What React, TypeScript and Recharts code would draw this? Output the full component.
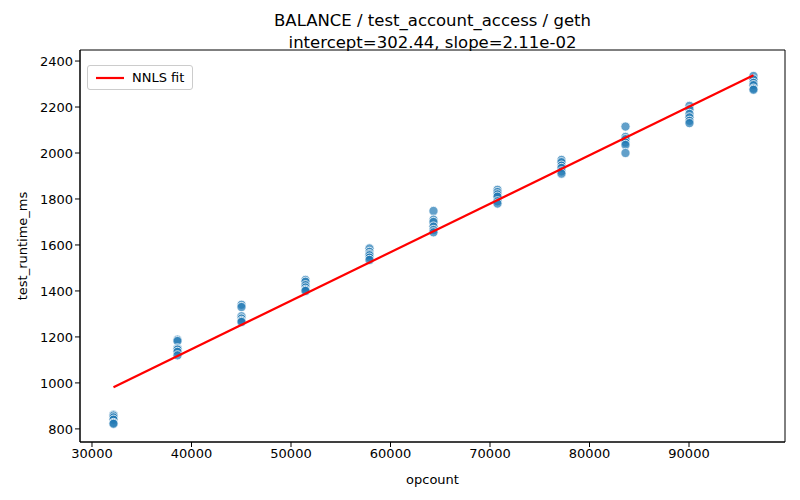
import React from "react";
import {
  ScatterChart,
  Scatter,
  XAxis,
  YAxis,
  ReferenceArea,
} from "recharts";

// opcount levels (x) and measured runtimes (ms) per level
const opcounts = [32160, 38592, 45024, 51456, 57888, 64320, 70752, 77184, 83616, 90048, 96480];
const runtimes: number[][] = [
  [862, 858, 850, 840, 826, 822],
  [1188, 1182, 1150, 1145, 1135, 1120],
  [1340, 1330, 1290, 1280, 1270, 1265],
  [1448, 1440, 1425, 1415, 1405, 1400],
  [1585, 1570, 1560, 1555, 1545, 1535],
  [1748, 1710, 1700, 1680, 1665, 1655],
  [1840, 1830, 1820, 1810, 1790, 1780],
  [1970, 1960, 1945, 1935, 1920, 1910],
  [2115, 2070, 2060, 2045, 2035, 2000],
  [2205, 2190, 2170, 2155, 2140, 2130],
  [2335, 2320, 2305, 2295, 2280, 2275],
];
const intercept = 302.44;
const slope = 0.0211;
const xTicks = [30000, 40000, 50000, 60000, 70000, 80000, 90000];
const yTicks = [800, 1000, 1200, 1400, 1600, 1800, 2000, 2200, 2400];
const xDomain: [number, number] = [28794, 99648];
const yDomain: [number, number] = [743, 2448];

const points = opcounts.flatMap((x, i) => runtimes[i].map((y) => ({ x, y })));
const fitX = [opcounts[0], opcounts[opcounts.length - 1]];
const fitLine = fitX.map((x) => ({ x, y: intercept + slope * x }));

const font = "DejaVu Sans, sans-serif";
const tickStyle = { fontSize: 13, fill: "#000", fontFamily: font };

const Dot = (props: any) => (
  <circle
    cx={props.cx}
    cy={props.cy}
    r={4.6}
    fill="#1f77b4"
    fillOpacity={0.7}
    stroke="#fff"
    strokeWidth={0.8}
  />
);

export default function App() {
  return (
    <div style={{ position: "absolute", left: 0, top: 0, width: 800, height: 500, background: "#fff" }}>
      <div
        style={{
          position: "absolute",
          left: 80,
          width: 705,
          top: 10,
          textAlign: "center",
          fontFamily: font,
          fontSize: 16.5,
          lineHeight: "22px",
        }}
      >
        BALANCE / test_account_access / geth
        <br />
        intercept=302.44, slope=2.11e-02
      </div>
      <ScatterChart width={800} height={500} margin={{ top: 50, right: 15, bottom: 0, left: 20 }}>
        <XAxis
          type="number"
          dataKey="x"
          domain={xDomain}
          ticks={xTicks}
          allowDataOverflow
          tick={tickStyle}
          tickSize={5}
          stroke="#000"
          height={58}
          label={{ value: "opcount", position: "insideBottom", offset: 16, style: tickStyle }}
        />
        <YAxis
          type="number"
          dataKey="y"
          domain={yDomain}
          ticks={yTicks}
          allowDataOverflow
          tick={tickStyle}
          tickSize={5}
          stroke="#000"
          width={60}
          label={{ value: "test_runtime_ms", angle: -90, position: "insideLeft", offset: 2, style: { ...tickStyle, textAnchor: "middle" } }}
        />
        <ReferenceArea
          x1={xDomain[0]}
          x2={xDomain[1]}
          y1={yDomain[0]}
          y2={yDomain[1]}
          fill="none"
          stroke="#000"
          strokeWidth={1}
          fillOpacity={0}
        />
        <Scatter data={points} shape={<Dot />} isAnimationActive={false} />
        <Scatter
          data={fitLine}
          line={{ stroke: "red", strokeWidth: 2.2 }}
          shape={() => null}
          isAnimationActive={false}
        />
      </ScatterChart>
      <div
        style={{
          position: "absolute",
          left: 87,
          top: 65,
          border: "1px solid #ccc",
          borderRadius: 3,
          background: "rgba(255,255,255,0.8)",
          padding: "4px 8px",
          display: "flex",
          alignItems: "center",
          fontFamily: font,
          fontSize: 13,
        }}
      >
        <svg width={28} height={10} style={{ marginRight: 8 }}>
          <line x1={0} y1={5} x2={28} y2={5} stroke="red" strokeWidth={2.2} />
        </svg>
        NNLS fit
      </div>
    </div>
  );
}
